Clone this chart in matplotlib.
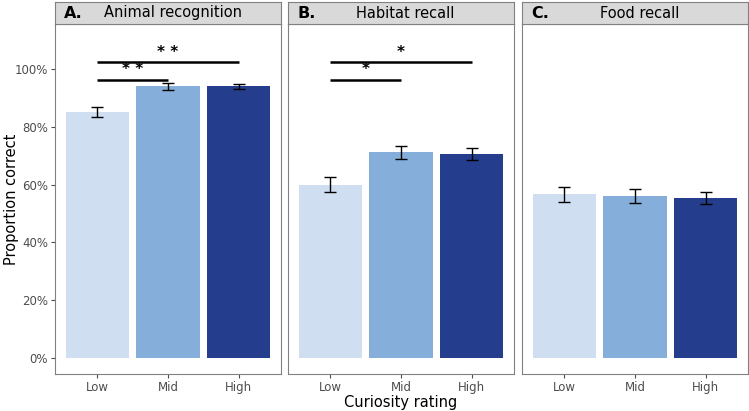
import matplotlib
matplotlib.use("Agg")
import matplotlib.pyplot as plt
from matplotlib.ticker import PercentFormatter

# data
categories = ["Low", "Mid", "High"]
panel_letters = ["A.", "B.", "C."]
panel_titles = ["Animal recognition", "Habitat recall", "Food recall"]
means = [
    [0.850, 0.939, 0.939],
    [0.600, 0.711, 0.705],
    [0.566, 0.561, 0.553],
]
errors = [
    [0.018, 0.011, 0.010],
    [0.025, 0.022, 0.021],
    [0.025, 0.024, 0.021],
]
# significance brackets: (from, to, height, label)
brackets = [
    [(0, 2, 1.022, "**"), (0, 1, 0.962, "**")],
    [(0, 2, 1.022, "*"), (0, 1, 0.962, "*")],
    [],
]
bar_colors = ["#D0DEF2", "#85AFDA", "#243D8C"]
y_ticks = [0, 0.2, 0.4, 0.6, 0.8, 1.0]

W, H = 749, 411
fig = plt.figure(figsize=(W / 100, H / 100), dpi=100)
plt.rcParams["font.family"] = "DejaVu Sans"

lefts = [55, 288, 522]
pw = 226
bottom_px, top_px, strip_top = 374, 24, 2
border = "#808080"

for i in range(3):
    ax = fig.add_axes([lefts[i] / W, 1 - bottom_px / H, pw / W, (bottom_px - top_px) / H])
    x = range(len(categories))
    ax.bar(x, means[i], width=0.9, color=bar_colors)
    ax.errorbar(x, means[i], yerr=errors[i], fmt="none", ecolor="black",
                elinewidth=1, capsize=4, capthick=1)
    for a, b, h, lab in brackets[i]:
        ax.plot([a, b], [h, h], color="black", lw=1.8, solid_capstyle="butt")
        ax.text((a + b) / 2, h + 0.036, " ".join(lab), ha="center", va="center",
                fontsize=11, fontweight="bold")
    ax.set_xlim(-0.6, 2.6)
    ax.set_ylim(-0.055, 1.155)
    ax.set_xticks(list(x))
    ax.set_xticklabels(categories)
    ax.set_yticks(y_ticks)
    ax.yaxis.set_major_formatter(PercentFormatter(1.0, decimals=0))
    ax.tick_params(colors="#4D4D4D", labelsize=8.5, length=3, width=0.8, pad=2)
    if i > 0:
        ax.tick_params(axis="y", left=False, labelleft=False)
    for s in ax.spines.values():
        s.set_color(border)
        s.set_linewidth(0.8)

    # facet strip
    sax = fig.add_axes([lefts[i] / W, 1 - top_px / H, pw / W, (top_px - strip_top) / H])
    sax.set_facecolor("#D9D9D9")
    sax.set_xticks([])
    sax.set_yticks([])
    for s in sax.spines.values():
        s.set_color(border)
        s.set_linewidth(0.8)
    sax.text(0.04, 0.5, panel_letters[i], transform=sax.transAxes, ha="left",
             va="center", fontsize=11.5, fontweight="bold")
    sax.text(0.52, 0.5, panel_titles[i], transform=sax.transAxes, ha="center",
             va="center", fontsize=10.5)

fig.text(12 / W, 1 - 199 / H, "Proportion correct", rotation=90, ha="center",
         va="center", fontsize=10.5)
fig.text(401 / W, 1 - 402 / H, "Curiosity rating", ha="center", va="center",
         fontsize=10.5)

fig.savefig("out.png", dpi=100)
